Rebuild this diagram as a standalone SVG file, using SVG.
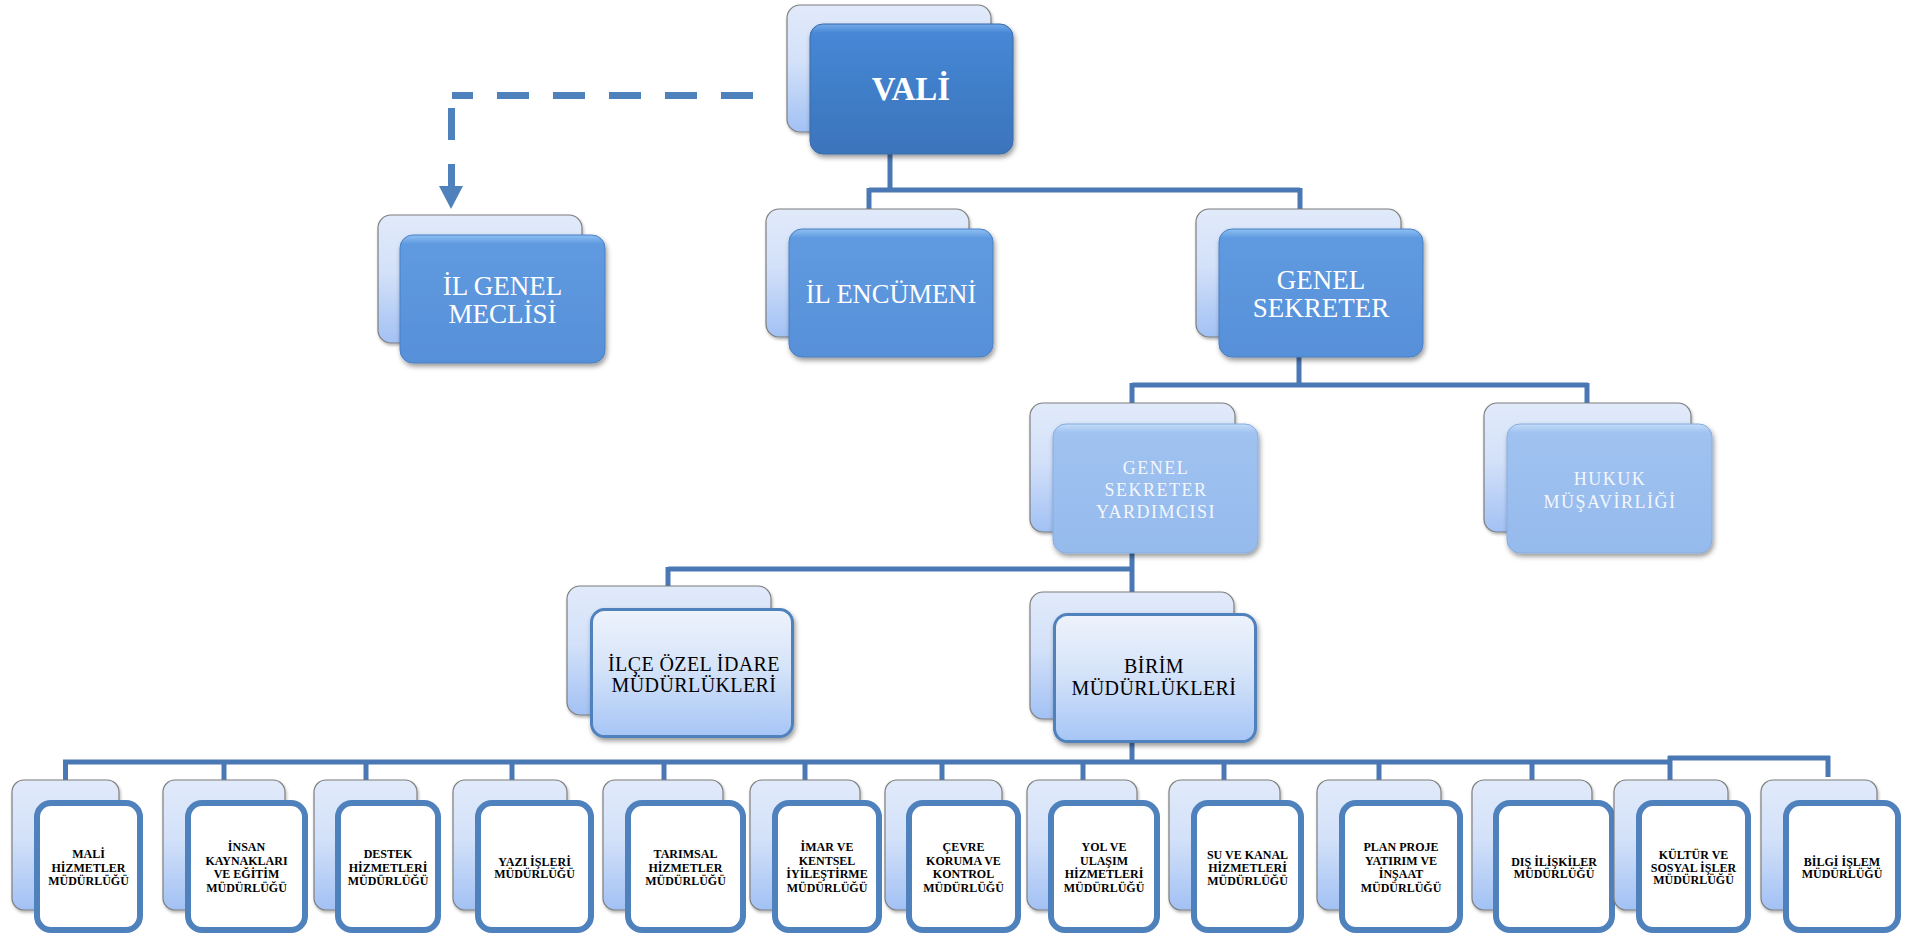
<svg xmlns="http://www.w3.org/2000/svg" width="1919" height="933" viewBox="0 0 1919 933">
<defs>
  <linearGradient id="gBack" x1="0" y1="0" x2="0" y2="1">
    <stop offset="0" stop-color="#e1eafa"/>
    <stop offset="0.45" stop-color="#d3e1f9"/>
    <stop offset="1" stop-color="#a2c1f4"/>
  </linearGradient>
  <linearGradient id="gL1" x1="0" y1="0" x2="0" y2="1">
    <stop offset="0" stop-color="#75aaea"/>
    <stop offset="0.07" stop-color="#4687d5"/>
    <stop offset="1" stop-color="#3b74bb"/>
  </linearGradient>
  <linearGradient id="gL2" x1="0" y1="0" x2="0" y2="1">
    <stop offset="0" stop-color="#8ec0f3"/>
    <stop offset="0.07" stop-color="#5f9ae0"/>
    <stop offset="1" stop-color="#5790d8"/>
  </linearGradient>
  <linearGradient id="gL3" x1="0" y1="0" x2="0" y2="1">
    <stop offset="0" stop-color="#c4dcf8"/>
    <stop offset="0.07" stop-color="#9fc2f0"/>
    <stop offset="1" stop-color="#95baec"/>
  </linearGradient>
  <linearGradient id="gL4" x1="0" y1="0" x2="0" y2="1">
    <stop offset="0" stop-color="#eef3fc"/>
    <stop offset="0.45" stop-color="#d6e4f9"/>
    <stop offset="1" stop-color="#a6c5f6"/>
  </linearGradient>
  <filter id="sh" x="-10%" y="-10%" width="125%" height="130%">
    <feDropShadow dx="1.5" dy="3" stdDeviation="2.5" flood-color="#000" flood-opacity="0.4"/>
  </filter>
  <filter id="shs" x="-10%" y="-10%" width="125%" height="130%">
    <feDropShadow dx="1" dy="2" stdDeviation="1.5" flood-color="#000" flood-opacity="0.3"/>
  </filter>
  <style>
    .back{fill:url(#gBack);stroke:#7f7f7f;stroke-width:1.2;filter:url(#shs)}
    .l1{fill:url(#gL1);stroke:#3a6aa8;stroke-width:1;filter:url(#sh)}
    .l2{fill:url(#gL2);stroke:#4a7fc2;stroke-width:1;filter:url(#sh)}
    .l3{fill:url(#gL3);stroke:#86ace0;stroke-width:1;filter:url(#sh)}
    .l4{fill:url(#gL4);stroke:#4f81bd;stroke-width:3;filter:url(#sh)}
    .l5{fill:#ffffff;stroke:#4f81bd;stroke-width:6}
    .conn{fill:none;stroke:#4a78b4;stroke-width:5}
    .dash{fill:none;stroke:#4f81bd;stroke-width:7}
    .tw{font-family:"Liberation Serif","Times New Roman",serif;fill:#ffffff;text-anchor:middle}
    .tl{font-family:"Liberation Serif","Times New Roman",serif;fill:#f3f7fd;text-anchor:middle;font-size:18px;letter-spacing:1.5px}
    .tb{font-family:"Liberation Serif","Times New Roman",serif;fill:#000000;text-anchor:middle;font-size:20px;letter-spacing:0.4px}
    .ts{font-family:"Liberation Serif","Times New Roman",serif;fill:#000000;text-anchor:middle;font-size:12px;font-weight:bold}
  </style>
</defs>

<g id="connectors">
  <path class="conn" d="M890 154 V190 M869 190 H1300 M869 188 V210 M1300 188 V210"/>
  <path class="conn" d="M1299 356 V385 M1132 385 H1588 M1132 383 V404 M1587 383 V404"/>
  <path class="conn" d="M1132 553 V569 M668 569 H1134 M668 567 V589 M1132 567 V593"/>
  <path class="conn" d="M1132 743 V762 M63 762 H1672 M1668 758 H1830"/>
  <path class="conn" d="M65.5 760 V781 M224 760 V781 M366 760 V781 M512 760 V781 M664 760 V781 M805 760 V781 M942 760 V781 M1083 760 V781 M1224 760 V781 M1379 760 V781 M1532 760 V781 M1670 756 V781 M1828 756 V777"/>
  <path class="dash" d="M753 95.5 H452" stroke-dasharray="32 24"/>
  <path class="dash" d="M451.5 108 V188" stroke-dasharray="32 24"/>
  <polygon points="439,186 463,186 451,209" fill="#4f81bd"/>
</g>

<g id="vali">
  <rect class="back" x="787" y="5" width="204" height="127" rx="13"/>
  <rect class="l1" x="810" y="24" width="203" height="130" rx="13"/>
  <text class="tw" x="911" y="100" font-size="33" font-weight="bold">VALİ</text>
</g>

<g id="il-genel-meclisi">
  <rect class="back" x="378" y="215" width="204" height="128" rx="13"/>
  <rect class="l2" x="400" y="235" width="205" height="128" rx="13"/>
  <text class="tw" font-size="27"><tspan x="502.5" y="295">İL GENEL</tspan><tspan x="502.5" y="323">MECLİSİ</tspan></text>
</g>

<g id="il-encumeni">
  <rect class="back" x="766" y="209" width="203" height="128" rx="13"/>
  <rect class="l2" x="789" y="229" width="204" height="128" rx="13"/>
  <text class="tw" x="891" y="303" font-size="26.5">İL ENCÜMENİ</text>
</g>

<g id="genel-sekreter">
  <rect class="back" x="1196" y="209" width="205" height="128" rx="13"/>
  <rect class="l2" x="1219" y="229" width="204" height="128" rx="13"/>
  <text class="tw" font-size="27"><tspan x="1321" y="289">GENEL</tspan><tspan x="1321" y="317">SEKRETER</tspan></text>
</g>

<g id="genel-sekreter-yardimcisi">
  <rect class="back" x="1030" y="403" width="205" height="129" rx="13"/>
  <rect class="l3" x="1053" y="424" width="205" height="129" rx="13"/>
  <text class="tl"><tspan x="1156" y="474">GENEL</tspan><tspan x="1156" y="496">SEKRETER</tspan><tspan x="1156" y="518">YARDIMCISI</tspan></text>
</g>

<g id="hukuk-musavirligi">
  <rect class="back" x="1484" y="403" width="207" height="129" rx="13"/>
  <rect class="l3" x="1507" y="424" width="205" height="129" rx="13"/>
  <text class="tl"><tspan x="1610" y="485">HUKUK</tspan><tspan x="1610" y="508">MÜŞAVİRLİĞİ</tspan></text>
</g>

<g id="ilce-ozel-idare">
  <rect class="back" x="567" y="586" width="204" height="129" rx="13"/>
  <rect class="l4" x="591.5" y="609.5" width="201" height="127" rx="13"/>
  <text class="tb"><tspan x="694" y="671">İLÇE ÖZEL İDARE</tspan><tspan x="694" y="692">MÜDÜRLÜKLERİ</tspan></text>
</g>

<g id="birim-mudurlukleri">
  <rect class="back" x="1030" y="592" width="204" height="127" rx="13"/>
  <rect class="l4" x="1054.5" y="614.5" width="201" height="127" rx="13"/>
  <text class="tb"><tspan x="1154" y="673">BİRİM</tspan><tspan x="1154" y="695">MÜDÜRLÜKLERİ</tspan></text>
</g>

<g id="mali">
  <rect class="back" x="12" y="780" width="107" height="130" rx="12"/>
  <rect class="l5" x="37" y="803" width="103" height="127" rx="14"/>
  <text class="ts"><tspan x="88.5" y="858">MALİ</tspan><tspan x="88.5" y="871.5">HİZMETLER</tspan><tspan x="88.5" y="885">MÜDÜRLÜĞÜ</tspan></text>
</g>

<g id="insan">
  <rect class="back" x="163" y="780" width="122" height="130" rx="12"/>
  <rect class="l5" x="188" y="803" width="117" height="127" rx="14"/>
  <text class="ts"><tspan x="246.5" y="851">İNSAN</tspan><tspan x="246.5" y="864.5">KAYNAKLARI</tspan><tspan x="246.5" y="878">VE EĞİTİM</tspan><tspan x="246.5" y="891.5">MÜDÜRLÜĞÜ</tspan></text>
</g>

<g id="destek">
  <rect class="back" x="314" y="780" width="103" height="130" rx="12"/>
  <rect class="l5" x="338" y="803" width="100" height="127" rx="14"/>
  <text class="ts"><tspan x="388" y="858">DESTEK</tspan><tspan x="388" y="871.5">HİZMETLERİ</tspan><tspan x="388" y="885">MÜDÜRLÜĞÜ</tspan></text>
</g>

<g id="yazi">
  <rect class="back" x="453" y="780" width="114" height="130" rx="12"/>
  <rect class="l5" x="478" y="803" width="113" height="127" rx="14"/>
  <text class="ts"><tspan x="534.5" y="866">YAZI İŞLERİ</tspan><tspan x="534.5" y="877.5">MÜDÜRLÜĞÜ</tspan></text>
</g>

<g id="tarimsal">
  <rect class="back" x="603" y="780" width="120" height="130" rx="12"/>
  <rect class="l5" x="628" y="803" width="115" height="127" rx="14"/>
  <text class="ts"><tspan x="685.5" y="858">TARIMSAL</tspan><tspan x="685.5" y="871.5">HİZMETLER</tspan><tspan x="685.5" y="885">MÜDÜRLÜĞÜ</tspan></text>
</g>

<g id="imar">
  <rect class="back" x="750" y="780" width="110" height="130" rx="12"/>
  <rect class="l5" x="775" y="803" width="104" height="127" rx="14"/>
  <text class="ts"><tspan x="827" y="851">İMAR VE</tspan><tspan x="827" y="864.5">KENTSEL</tspan><tspan x="827" y="878">İYİLEŞTİRME</tspan><tspan x="827" y="891.5">MÜDÜRLÜĞÜ</tspan></text>
</g>

<g id="cevre">
  <rect class="back" x="885" y="780" width="117" height="130" rx="12"/>
  <rect class="l5" x="909" y="803" width="109" height="127" rx="14"/>
  <text class="ts"><tspan x="963.5" y="851">ÇEVRE</tspan><tspan x="963.5" y="864.5">KORUMA VE</tspan><tspan x="963.5" y="878">KONTROL</tspan><tspan x="963.5" y="891.5">MÜDÜRLÜĞÜ</tspan></text>
</g>

<g id="yol">
  <rect class="back" x="1027" y="780" width="110" height="130" rx="12"/>
  <rect class="l5" x="1051" y="803" width="106" height="127" rx="14"/>
  <text class="ts"><tspan x="1104" y="851">YOL VE</tspan><tspan x="1104" y="864.5">ULAŞIM</tspan><tspan x="1104" y="878">HİZMETLERİ</tspan><tspan x="1104" y="891.5">MÜDÜRLÜĞÜ</tspan></text>
</g>

<g id="su">
  <rect class="back" x="1169" y="780" width="111" height="130" rx="12"/>
  <rect class="l5" x="1194" y="803" width="107" height="127" rx="14"/>
  <text class="ts"><tspan x="1247.5" y="859">SU VE KANAL</tspan><tspan x="1247.5" y="872">HİZMETLERİ</tspan><tspan x="1247.5" y="885">MÜDÜRLÜĞÜ</tspan></text>
</g>

<g id="plan">
  <rect class="back" x="1317" y="780" width="124" height="130" rx="12"/>
  <rect class="l5" x="1342" y="803" width="118" height="127" rx="14"/>
  <text class="ts"><tspan x="1401" y="851">PLAN PROJE</tspan><tspan x="1401" y="864.5">YATIRIM VE</tspan><tspan x="1401" y="878">İNŞAAT</tspan><tspan x="1401" y="891.5">MÜDÜRLÜĞÜ</tspan></text>
</g>

<g id="dis">
  <rect class="back" x="1472" y="780" width="120" height="130" rx="12"/>
  <rect class="l5" x="1496" y="803" width="116" height="127" rx="14"/>
  <text class="ts"><tspan x="1554" y="866">DIŞ İLİŞKİLER</tspan><tspan x="1554" y="877.5">MÜDÜRLÜĞÜ</tspan></text>
</g>

<g id="kultur">
  <rect class="back" x="1614" y="780" width="114" height="130" rx="12"/>
  <rect class="l5" x="1639" y="803" width="109" height="127" rx="14"/>
  <text class="ts"><tspan x="1693.5" y="859">KÜLTÜR VE</tspan><tspan x="1693.5" y="871.5">SOSYAL İŞLER</tspan><tspan x="1693.5" y="884">MÜDÜRLÜĞÜ</tspan></text>
</g>

<g id="bilgi">
  <rect class="back" x="1761" y="780" width="116" height="130" rx="12"/>
  <rect class="l5" x="1786" y="803" width="112" height="127" rx="14"/>
  <text class="ts"><tspan x="1842" y="866">BİLGİ İŞLEM</tspan><tspan x="1842" y="877.5">MÜDÜRLÜĞÜ</tspan></text>
</g>
</svg>
